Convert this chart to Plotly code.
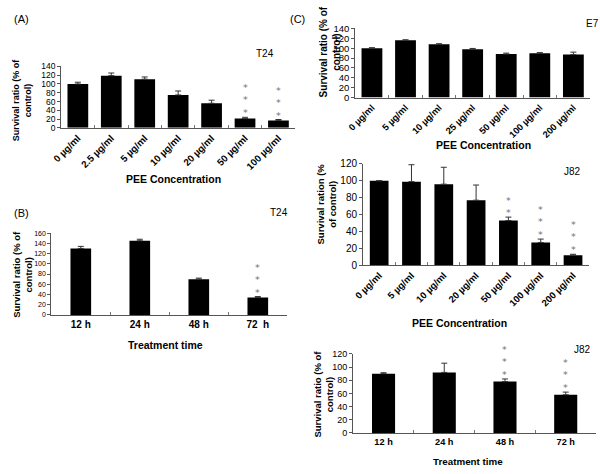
import plotly.graph_objects as go

# ---------------- data ----------------
a_cats = ["0 µg/ml", "2.5 µg/ml", "5 µg/ml", "10 µg/ml", "20 µg/ml", "50 µg/ml", "100 µg/ml"]
a_vals = [100, 119, 111, 75, 56, 21, 17]
a_err = [4, 6, 5, 9, 7, 3, 2]
a_sig = ["", "", "", "", "", "***", "***"]

b_cats = ["12 h", "24 h", "48 h", "72  h"]
b_vals = [130, 145, 70, 34]
b_err = [4, 3, 2, 2]
b_sig = ["", "", "", "***"]

e7_cats = ["0 µg/ml", "5 µg/ml", "10 µg/ml", "25 µg/ml", "50 µg/ml", "100 µg/ml", "200 µg/ml"]
e7_vals = [100, 116, 108, 98, 88, 90, 87]
e7_err = [1, 1, 1, 1.5, 2, 1, 5]

jc_cats = ["0 µg/ml", "5 µg/ml", "10 µg/ml", "20 µg/ml", "50 µg/ml", "100 µg/ml", "200 µg/ml"]
jc_vals = [100, 99, 96, 77, 53, 27, 12]
jc_err = [0, 20, 20, 18, 4, 4, 1]
jc_sig = ["", "", "", "", "**", "***", "***"]

jt_cats = ["12 h", "24 h", "48 h", "72 h"]
jt_vals = [90, 92, 78, 58]
jt_err = [1.5, 14, 4, 4]
jt_sig = ["", "", "***", "***"]

W, H = 600, 474
FONT = "Liberation Sans, Arial, sans-serif"


def px(x):
    return x / W


def py(y):
    return 1 - y / H


fig = go.Figure()

panels = [
    # (suffix, cats, vals, err, sig, width, xdom(px), ydom(px), yrange, dtick, ytickfont, xtickangle, xtickfont)
    ("", a_cats, a_vals, a_err, a_sig, 0.62, (52, 290), (125, 62), 140, 20, 8.5, -45, 9.7),
    ("2", b_cats, b_vals, b_err, b_sig, 0.35, (42, 282), (317, 233), 160, 20, 7, 0, 10),
    ("3", e7_cats, e7_vals, e7_err, None, 0.62, (351, 590), (94, 23), 140, 20, 9.5, -45, 9.3),
    ("4", jc_cats, jc_vals, jc_err, jc_sig, 0.58, (359, 589), (266, 162), 120, 20, 10, -45, 9.5),
    ("5", jt_cats, jt_vals, jt_err, jt_sig, 0.38, (349, 596), (438, 357), 120, 20, 9, 0, 9.2),
]

annotations = []
layout = dict(
    width=W, height=H,
    margin=dict(l=0, r=0, t=0, b=0),
    paper_bgcolor="white", plot_bgcolor="white",
    showlegend=False,
    font=dict(family=FONT, color="black"),
)

for suf, cats, vals, err, sig, bw, xd, yd, ymax, dt, ytf, xang, xtf in panels:
    xa = "x" + suf
    ya = "y" + suf
    fig.add_trace(go.Bar(
        x=cats, y=vals, xaxis=xa, yaxis=ya,
        width=bw,
        marker=dict(color="black", line=dict(width=0)),
        error_y=dict(type="data", symmetric=False, array=err,
                     arrayminus=[0] * len(err), color="#333", thickness=1, width=3),
        hoverinfo="skip",
    ))
    layout["xaxis" + suf] = dict(
        domain=[px(xd[0]), px(xd[1])], anchor=ya,
        type="category", range=[-0.5, len(cats) - 0.5],
        showline=True, linecolor="#555", linewidth=1,
        ticks="inside", tickson="boundaries", ticklen=3, tickcolor="#777",
        tickangle=xang,
        tickfont=dict(family=FONT, size=xtf, color="black", weight="bold"),
        showgrid=False, zeroline=False,
    )
    layout["yaxis" + suf] = dict(
        domain=[py(yd[0]), py(yd[1])], anchor=xa,
        range=[0, ymax], dtick=dt, tick0=0,
        showline=True, linecolor="#555", linewidth=1,
        ticks="outside", ticklen=3, tickcolor="#555",
        tickfont=dict(family=FONT, size=ytf, color="black"),
        showgrid=False, zeroline=False,
    )
    if sig:
        for c, v, e, s in zip(cats, vals, err, sig):
            if s:
                annotations.append(dict(
                    x=c, y=v + e, xref=xa, yref=ya,
                    text="<br>".join(list(s)), showarrow=False,
                    yanchor="bottom", xanchor="center", yshift=-3,
                    font=dict(family="DejaVu Sans, sans-serif", size=9.5, color="#707070"),
                ))


def txt(x, y, s, size, bold=False, angle=0, xanchor="center"):
    annotations.append(dict(
        x=px(x), y=py(y), xref="paper", yref="paper",
        text=("<b>%s</b>" % s) if bold else s, showarrow=False,
        xanchor=xanchor, yanchor="middle", textangle=angle,
        font=dict(family=FONT, size=size, color="black"),
    ))


# panel letters
txt(2, 13, "(A)", 11, xanchor="left")
txt(2, 212, "(B)", 11, xanchor="left")
txt(283, 13, "(C)", 11, xanchor="left")

# cell-line labels
txt(259, 49, "T24", 10)
txt(274, 212, "T24", 10)
txt(592, 18, "E7", 10)
txt(572, 170, "J82", 10)
txt(582, 352, "J82", 10)

# x titles
txt(166, 178, "PEE Concentration", 10.5, bold=True)
txt(158, 348, "Treatment time", 10.5, bold=True)
txt(482, 143, "PEE Concentration", 10.5, bold=True)
txt(457, 325, "PEE Concentration", 10.5, bold=True)
txt(466, 467, "Treatment time", 9.8, bold=True)

# y titles
txt(12, 96, "Survival ratio (% of<br>control)", 9, bold=True, angle=-90)
txt(12, 275, "Survival ratio (% of<br>control)", 9.5, bold=True, angle=-90)
txt(325, 47, "Survival ratio (% of<br>control)", 10, bold=True, angle=-90)
txt(322, 203, "Survival ration (%<br>of control)", 9.5, bold=True, angle=-90)
txt(319, 398, "Survival ratio (% of<br>control)", 9.5, bold=True, angle=-90)

layout["annotations"] = annotations
fig.update_layout(**layout)
fig.write_html("out.html", config={"displayModeBar": False},
               post_script="document.body.style.margin='0';")
